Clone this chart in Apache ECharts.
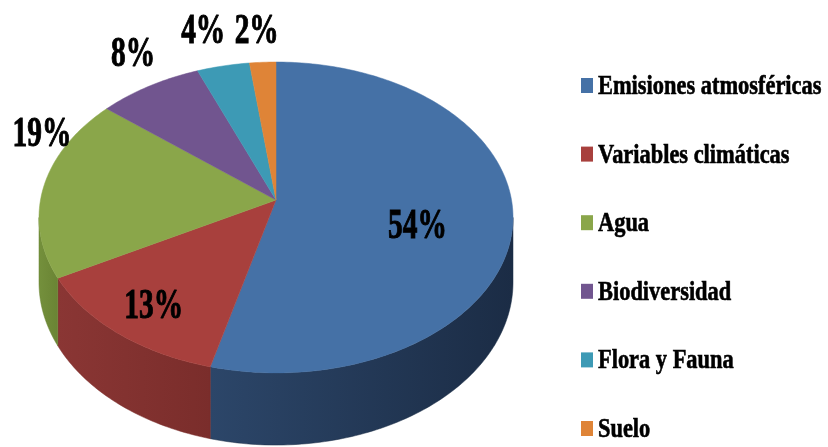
<!DOCTYPE html>
<html>
<head>
<meta charset="utf-8">
<script src="https://cdn.jsdelivr.net/npm/echarts@6/dist/echarts.min.js"></script>
<style>
  html, body { margin: 0; padding: 0; background: #fff; }
  #main { width: 828px; height: 447px; }
</style>
</head>
<body>
<div id="main"></div>
<script>
// data
var categories = ['Emisiones atmosféricas', 'Variables climáticas', 'Agua', 'Biodiversidad', 'Flora y Fauna', 'Suelo'];
var values = [54, 13, 19, 8, 4, 2];

// colours (top face / side wall)
var topColors = ['#4571a6', '#a8403d', '#8aa64a', '#71558f', '#3d9ab5', '#df8437'];
var sideColors = [['#2c4669', '#1b2c45'], ['#8a3634', '#7a2d2b'], ['#74903c', '#6a8434'], ['#55406d', '#4a375f'], ['#2f7890', '#286a80'], ['#b06a2c', '#a05f26']];

// pie geometry: disc seen in perspective (centre, half width, half depth, perspective, wall height)
var cx = 276, cy = 200, ax = 235.5, by = 153.5, persp = 0.1125, depth = 64;
// label placement: radial factor on the disc and extra offset in pixels
var labelLayout = [
  {f: 0.6, dx: 0, dy: 16},
  {f: 0.8, dx: 2, dy: 3},
  {f: 1.0, dx: -2, dy: -51},
  {f: 1.0, dx: -16, dy: -31},
  {f: 1.0, dx: -20, dy: -34},
  {f: 1.0, dx: -6, dy: -30}
];

var total = values.reduce(function (a, b) { return a + b; }, 0);

// angle clockwise from 12 o'clock -> screen point
function pt(theta, r, wall) {
  var u = r * Math.sin(theta), w = -r * Math.cos(theta);
  var d = 1 - persp * w;
  return [cx + ax * u / d, cy + (by * w + (wall ? depth : 0)) / d];
}
function arc(a, b, wall) {
  var pts = [];
  var n = Math.max(2, Math.ceil(Math.abs(b - a) / (Math.PI / 180)));
  for (var k = 0; k <= n; k++) {
    pts.push(pt(a + (b - a) * k / n, 1, wall));
  }
  return pts;
}

function renderItem(params, api) {
  var i = params.dataIndex;
  var before = 0;
  for (var j = 0; j < i; j++) before += values[j];
  var start = before / total * Math.PI * 2;
  var end = (before + values[i]) / total * Math.PI * 2;
  var children = [];

  // visible wall: between the two silhouette points of the disc
  var edge = Math.acos(-persp);
  var a = Math.max(start, edge), b = Math.min(end, Math.PI * 2 - edge);
  if (a < b) {
    var wall = arc(a, b, false).concat(arc(b, a, true));
    children.push({
      type: 'polygon',
      shape: {points: wall},
      style: {
        fill: new echarts.graphic.LinearGradient(0, 0, 1, 0, [
          {offset: 0, color: sideColors[i][0]},
          {offset: 1, color: sideColors[i][1]}
        ]),
        stroke: sideColors[i][1],
        lineWidth: 0.5
      }
    });
  }

  // top face
  var face = [[cx, cy]].concat(arc(start, end, false));
  children.push({
    type: 'polygon',
    shape: {points: face},
    style: {fill: topColors[i], stroke: topColors[i], lineWidth: 0.5}
  });

  // percentage label
  var mid = (start + end) / 2;
  var L = labelLayout[i];
  var p = pt(mid, L.f, false);
  children.push({
    type: 'text',
    z2: 100,
    x: p[0] + L.dx,
    y: p[1] + L.dy,
    scaleX: 0.7,
    style: {
      text: values[i] + '%',
      x: 0, y: 0,
      align: 'center',
      verticalAlign: 'middle',
      font: 'bold 42px "Liberation Serif", "Times New Roman", serif',
      fill: '#000',
      stroke: '#000',
      lineWidth: 1
    }
  });

  return {type: 'group', children: children};
}

// legend drawn as graphic elements (condensed bold serif like the original)
var legendTop = 86, legendStep = 68.6;
var legendGraphics = categories.map(function (name, i) {
  var y = legendTop + i * legendStep;
  return {
    type: 'group',
    children: [
      {type: 'rect', shape: {x: 581, y: y - 8, width: 12, height: 15}, style: {fill: topColors[i]}},
      {
        type: 'text',
        x: 598, y: y + 1,
        scaleX: 0.83,
        style: {
          text: name, x: 0, y: 0,
          align: 'left', verticalAlign: 'middle',
          font: 'bold 27px "Liberation Serif", "Times New Roman", serif',
          fill: '#000',
          stroke: '#000',
          lineWidth: 0.6
        }
      }
    ]
  };
});

var chart = echarts.init(document.getElementById('main'), null, {renderer: 'canvas'});
chart.setOption({
  backgroundColor: '#fff',
  animation: false,
  graphic: legendGraphics,
  series: [{
    type: 'custom',
    coordinateSystem: 'none',
    renderItem: renderItem,
    data: values
  }]
});
</script>
</body>
</html>
